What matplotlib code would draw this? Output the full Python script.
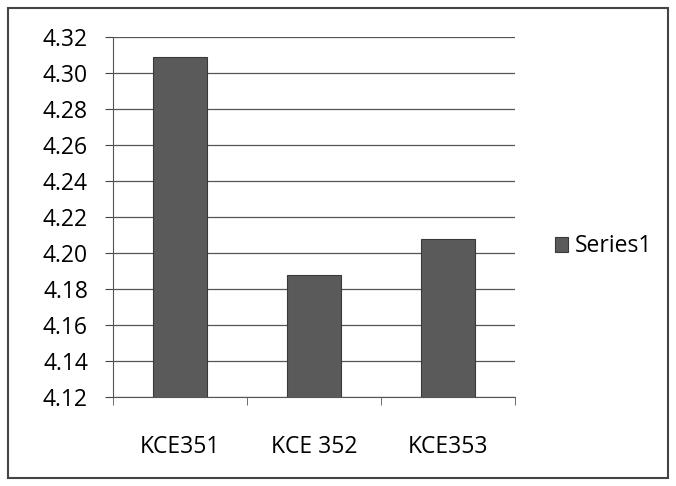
import matplotlib.pyplot as plt
import numpy as np
from matplotlib.patches import Rectangle

categories = ['KCE351', 'KCE 352', 'KCE353']
series1 = [4.309, 4.188, 4.208]
y_ticks = [4.12, 4.14, 4.16, 4.18, 4.20, 4.22, 4.24, 4.26, 4.28, 4.30, 4.32]

plt.rcParams['font.family'] = ['Open Sans', 'DejaVu Sans']

fig = plt.figure(figsize=(6.76, 4.86), dpi=100)
ax = fig.add_axes([0.167, 0.183, 0.595, 0.741])

x = np.arange(len(categories))
ax.bar(x, series1, width=0.4, color='#5a5a5a', edgecolor='#3a3a3a',
       linewidth=0.8, label='Series1', zorder=3)

ax.set_ylim(4.12, 4.32)
ax.set_xlim(-0.5, 2.5)
ax.set_yticks(y_ticks)
ax.set_yticklabels(['%.2f' % v for v in y_ticks], fontsize=16.5)
ax.set_xticks(x)
ax.set_xticklabels(categories, fontsize=16.5)
ax.tick_params(axis='x', length=0, pad=27)
ax.tick_params(axis='y', length=6, color='#444444', pad=12)

# category boundary ticks on x axis
ax.set_xticks([-0.5, 0.5, 1.5, 2.5], minor=True)
ax.tick_params(axis='x', which='minor', length=6, color='#555555', direction='out')

ax.yaxis.grid(True, color='#555555', linewidth=0.9, zorder=0)
for side in ['top', 'right']:
    ax.spines[side].set_visible(False)
ax.spines['left'].set_color('#555555')
ax.spines['bottom'].set_color('#555555')

leg = fig.legend(loc='center left', bbox_to_anchor=(0.79, 0.493), frameon=False,
                 fontsize=16.5, handlelength=0.6, handleheight=0.6, handletextpad=0.3)

fig.patches.append(Rectangle((0.012, 0.017), 0.976, 0.966, transform=fig.transFigure,
                             fill=False, edgecolor='#444444', linewidth=1.5))

fig.savefig('out.png', dpi=100)
